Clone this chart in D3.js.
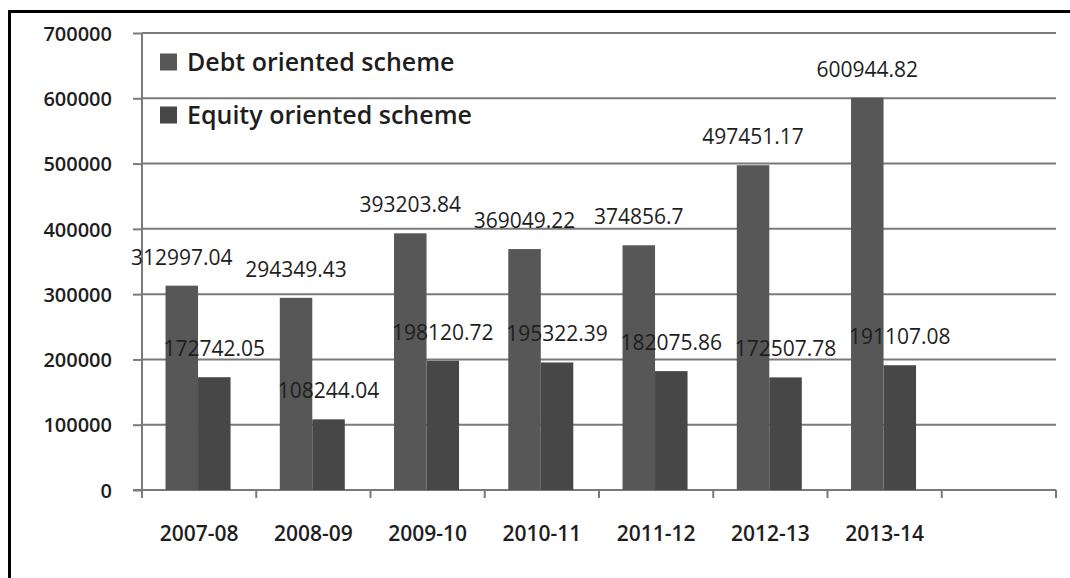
<!DOCTYPE html>
<html>
<head>
<meta charset="utf-8">
<script src="https://cdn.jsdelivr.net/npm/d3@7"></script>
<style>
  html, body { margin: 0; padding: 0; background: #fff; }
  svg { display: block; }
  text { font-family: "Open Sans", sans-serif; fill: #1e1e1e; }
</style>
</head>
<body>
<svg id="chart" width="1070" height="578"></svg>
<script>
// ---- data ----
const categories = ["2007-08", "2008-09", "2009-10", "2010-11", "2011-12", "2012-13", "2013-14", ""];
const seriesNames = ["Debt oriented scheme", "Equity oriented scheme"];
const debtValues = [312997.04, 294349.43, 393203.84, 369049.22, 374856.7, 497451.17, 600944.82];
const equityValues = [172742.05, 108244.04, 198120.72, 195322.39, 182075.86, 172507.78, 191107.08];
const debtLabels = ["312997.04", "294349.43", "393203.84", "369049.22", "374856.7", "497451.17", "600944.82"];
const equityLabels = ["172742.05", "108244.04", "198120.72", "195322.39", "182075.86", "172507.78", "191107.08"];
const yTicks = [0, 100000, 200000, 300000, 400000, 500000, 600000, 700000];
const colors = ["#575757", "#474747"];

(function () {
const svg = d3.select("#chart");
const W = 1070, H = 578;

// frame
svg.append("path")
  .attr("d", `M9.5,${H + 5} L9.5,11.5 L${W + 5},11.5`)
  .attr("fill", "none").attr("stroke", "#000").attr("stroke-width", 3);

const pLeft = 142, pRight = 1056, pTop = 33, pBottom = 490;

const x = d3.scaleBand().domain(categories.map((c, i) => i)).range([pLeft, pRight]).paddingInner(0).paddingOuter(0);
const bw = x.bandwidth();
const xs = d3.scaleBand().domain([0, 1]).range([bw * 0.206, bw * 0.775]).padding(0);
const y = d3.scaleLinear().domain([0, 700000]).range([pBottom, pTop]);

// gridlines
svg.append("g").selectAll("line").data(yTicks.filter(t => t > 0)).join("line")
  .attr("x1", pLeft).attr("x2", pRight)
  .attr("y1", d => y(d)).attr("y2", d => y(d))
  .attr("stroke", "#7a7a7a").attr("stroke-width", 2);

// y axis
const yAxis = d3.axisLeft(y).tickValues(yTicks).tickSize(9).tickPadding(21).tickFormat(d3.format("d"));
const gy = svg.append("g").attr("transform", `translate(${pLeft},0)`).call(yAxis);
gy.select(".domain").attr("d", `M0,${pTop}V${pBottom + 8}`).attr("stroke", "#7a7a7a").attr("stroke-width", 2);
gy.selectAll(".tick line").attr("stroke", "#7a7a7a").attr("stroke-width", 2);
gy.selectAll(".tick text").attr("font-size", 20).attr("font-weight", 600).attr("font-family", "Open Sans").attr("fill", "#2a2a2a").attr("dy", "0.36em");

// x axis
const xAxis = d3.axisBottom(x).tickSize(0).tickFormat(i => categories[i]).tickPadding(47);
const gx = svg.append("g").attr("transform", `translate(0,${pBottom})`).call(xAxis);
gx.select(".domain").remove();
gx.append("line").attr("x1", pLeft - 9).attr("x2", pRight).attr("y1", 0).attr("y2", 0)
  .attr("stroke", "#7a7a7a").attr("stroke-width", 2);
gx.append("g").selectAll("line").data(d3.range(categories.length + 1)).join("line")
  .attr("x1", i => pLeft + i * bw).attr("x2", i => pLeft + i * bw)
  .attr("y1", 0).attr("y2", 8)
  .attr("stroke", "#7a7a7a").attr("stroke-width", 2);
gx.selectAll(".tick text").attr("font-size", 21).attr("font-weight", 600).attr("font-family", "Open Sans").attr("fill", "#2a2a2a").attr("dy", "0.2em");

// bars
const series = [debtValues, equityValues];
const labels = [debtLabels, equityLabels];
series.forEach((vals, s) => {
  svg.append("g").selectAll("rect").data(vals).join("rect")
    .attr("x", (d, i) => x(i) + xs(s))
    .attr("y", d => y(d))
    .attr("width", xs.bandwidth())
    .attr("height", d => y(0) - y(d))
    .attr("fill", colors[s]);
});
series.forEach((vals, s) => {
  svg.append("g").selectAll("text").data(vals).join("text")
    .attr("x", (d, i) => x(i) + xs(s) + xs.bandwidth() / 2)
    .attr("y", d => y(d) - 21)
    .attr("text-anchor", "middle")
    .attr("font-size", 21)
    .attr("font-weight", 500)
    .text((d, i) => labels[s][i]);
});

// legend
const lg = svg.append("g");
seriesNames.forEach((n, i) => {
  const cy = 62 + i * 53;
  lg.append("rect").attr("x", 160).attr("y", cy - 8.5).attr("width", 17).attr("height", 17).attr("fill", colors[i]);
  lg.append("text").attr("x", 187).attr("y", cy).attr("dy", "0.36em").attr("font-size", 25).attr("font-weight", 600).text(n);
});
})();
</script>
</body>
</html>
